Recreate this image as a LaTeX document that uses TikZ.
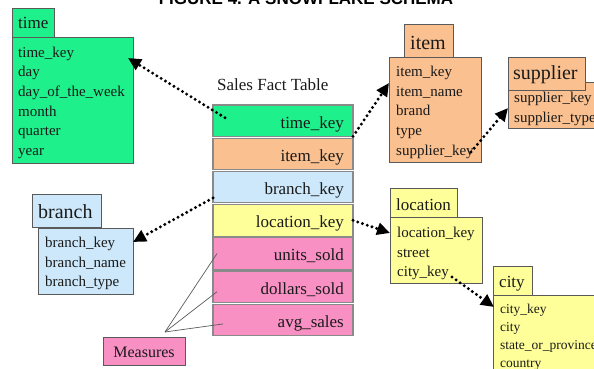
\documentclass[tikz,border=0pt]{standalone}
\usepackage{fontspec}
\setmainfont{Liberation Serif}
\newfontfamily\titlefont{Liberation Sans}
\usetikzlibrary{arrows.meta,calc}
\definecolor{tgreen}{HTML}{1EF08C}
\definecolor{tpeach}{HTML}{FAC090}
\definecolor{tblue}{HTML}{CCE8FA}
\definecolor{tyellow}{HTML}{FFFF99}
\definecolor{tpink}{HTML}{F890C4}
\definecolor{boxgray}{HTML}{5A5A5A}
\definecolor{rowgray}{HTML}{8A8A8A}
\definecolor{txt}{HTML}{1A1A1A}
\begin{document}
\begin{tikzpicture}[x=1pt,y=-1pt,
  tbl/.style={draw=boxgray, line width=0.9pt, inner sep=0pt, outer sep=0pt, anchor=north west},
  frow/.style={draw=rowgray, line width=1.1pt, inner sep=0pt, outer sep=0pt, anchor=north west, minimum width=140pt, minimum height=31.5pt},
  fld/.style={font=\fontsize{15}{15}\selectfont, text=txt, inner sep=0pt, anchor=base west},
  sfld/.style={font=\fontsize{13.5}{13.5}\selectfont, text=txt, inner sep=0pt, anchor=base west},
  hdr/.style={font=\fontsize{#1}{#1}\selectfont, text=txt, inner sep=0pt, anchor=base west},
  ftxt/.style={font=\fontsize{17}{17}\selectfont, text=txt, inner sep=0pt, anchor=base east},
  link/.style={line width=3.3pt, dash pattern=on 0pt off 5pt, line cap=round, -{Triangle[length=13pt,width=12pt]}},
  mline/.style={draw=boxgray, line width=0.7pt}
]
\useasboundingbox (0,0) rectangle (594,369);
\clip (0,0) rectangle (594,369);

% title (cut off at the top)
\node[font=\titlefont\bfseries\fontsize{17}{17}\selectfont, anchor=base, inner sep=0pt] (title) at (306,5) {FIGURE 4. A SNOWFLAKE SCHEMA};

% ---------- time ----------
\node[tbl, fill=tgreen, minimum width=121pt, minimum height=126pt] (timebox) at (12,37) {};
\node[tbl, fill=tgreen, minimum width=42pt, minimum height=29pt] (timehdr) at (12,8) {};
\node[hdr=17] (timet) at (18,29) {time};
\node[fld] (t1) at (18,57) {time\_key};
\node[fld] (t2) at (18,76) {day};
\node[fld] (t3) at (18,96) {day\_of\_the\_week};
\node[fld] (t4) at (18,116) {month};
\node[fld] (t5) at (18,135) {quarter};
\node[fld] (t6) at (18,155) {year};

% ---------- item ----------
\node[tbl, fill=tpeach, minimum width=92pt, minimum height=105pt] (itembox) at (389,57) {};
\node[tbl, fill=tpeach, minimum width=49pt, minimum height=33pt] (itemhdr) at (404,24) {};
\node[hdr=20] (itemt) at (410,49) {item};
\node[fld] (i1) at (396,77) {item\_key};
\node[fld] (i2) at (396,96) {item\_name};
\node[fld] (i3) at (396,115) {brand};
\node[fld] (i4) at (396,135) {type};
\node[fld] (i5) at (396,155) {supplier\_key};

% ---------- supplier ----------
\node[tbl, fill=tpeach, minimum width=100pt, minimum height=46pt] (supbox) at (508,82) {};
\node[tbl, fill=tpeach, minimum width=77pt, minimum height=33pt] (suphdr) at (508,57) {};
\node[hdr=20] (supt) at (513,80) {supplier};
\node[fld] (s1) at (514,102) {supplier\_key};
\node[fld] (s2) at (514,122) {supplier\_type};

% ---------- branch ----------
\node[tbl, fill=tblue, minimum width=95pt, minimum height=66pt] (branchbox) at (38,228) {};
\node[tbl, fill=tblue, minimum width=69pt, minimum height=33pt] (branchhdr) at (32,194) {};
\node[hdr=20] (brancht) at (38,218) {branch};
\node[fld] (b1) at (45,247) {branch\_key};
\node[fld] (b2) at (45,267) {branch\_name};
\node[fld] (b3) at (45,286) {branch\_type};

% ---------- location ----------
\node[tbl, fill=tyellow, minimum width=92pt, minimum height=66pt] (locbox) at (390,217) {};
\node[tbl, fill=tyellow, minimum width=67pt, minimum height=29pt] (lochdr) at (390,188) {};
\node[hdr=17] (loct) at (396,210) {location};
\node[fld] (l1) at (397,237) {location\_key};
\node[fld] (l2) at (397,257) {street};
\node[fld] (l3) at (397,276) {city\_key};

% ---------- city ----------
\node[tbl, fill=tyellow, minimum width=110pt, minimum height=90pt] (citybox) at (493,295) {};
\node[tbl, fill=tyellow, minimum width=39pt, minimum height=29pt] (cityhdr) at (493,266) {};
\node[hdr=17] (cityt) at (499,287) {city};
\node[sfld] (c1) at (500,313) {city\_key};
\node[sfld] (c2) at (500,331) {city};
\node[sfld] (c3) at (500,349) {state\_or\_province};
\node[sfld] (c4) at (500,367) {country};

% ---------- fact table ----------
\node[font=\fontsize{17}{17}\selectfont, text=txt, inner sep=0pt, anchor=base west] (facttitle) at (217,90) {Sales Fact Table};
\node[frow, fill=tgreen]  (ftime) at (213,105) {};
\node[frow, fill=tpeach]  (fitem) at (213,138.2) {};
\node[frow, fill=tblue]   (fbranch) at (213,171.4) {};
\node[frow, fill=tyellow] (floc) at (213,204.6) {};
\node[frow, fill=tpink]   (funits) at (213,237.8) {};
\node[frow, fill=tpink]   (fdollars) at (213,271) {};
\node[frow, fill=tpink]   (favg) at (213,304.2) {};
\node[ftxt] (ft1) at (344,128) {time\_key};
\node[ftxt] (ft2) at (344,161.2) {item\_key};
\node[ftxt] (ft3) at (344,194.4) {branch\_key};
\node[ftxt] (ft4) at (344,227.6) {location\_key};
\node[ftxt] (ft5) at (344,260.8) {units\_sold};
\node[ftxt] (ft6) at (344,294) {dollars\_sold};
\node[ftxt] (ft7) at (344,327.2) {avg\_sales};

% ---------- measures ----------
\node[tbl, fill=tpink, minimum width=82pt, minimum height=28pt] (measures) at (103,337) {};
\node[font=\fontsize{16}{16}\selectfont, text=txt, inner sep=0pt, anchor=base] (meast) at (measures.center |- 0,357) {Measures};
\coordinate (mjoin) at ($(measures.north)+(21,-5)$);
\draw[mline] (mjoin) -- ($(funits.west)+(4,0)$);
\draw[mline] (mjoin) -- ($(fdollars.west)+(4,5)$);
\draw[mline] (mjoin) -- ($(favg.west)+(10,4)$);

% ---------- links ----------
\draw[link] ($(ftime.west)+(12,-3)$) -- ($(timebox.north east)+(-5,21)$);
\draw[link] (ftime.south east) -- ($(itembox.north west)+(0,26)$);
\draw[link] ($(itembox.south east)+(-10,-10)$) -- ($(supbox.west)+(0,3)$);
\draw[link] ($(fbranch.south west)+(0,-5)$) -- ($(branchbox.north east)+(0,14)$);
\draw[link] (floc.east) -- ($(locbox.north west)+(0,16)$);
\draw[link] ($(locbox.south east)+(-30,-6)$) -- ($(citybox.north west)+(1,12)$);
\end{tikzpicture}
\end{document}
